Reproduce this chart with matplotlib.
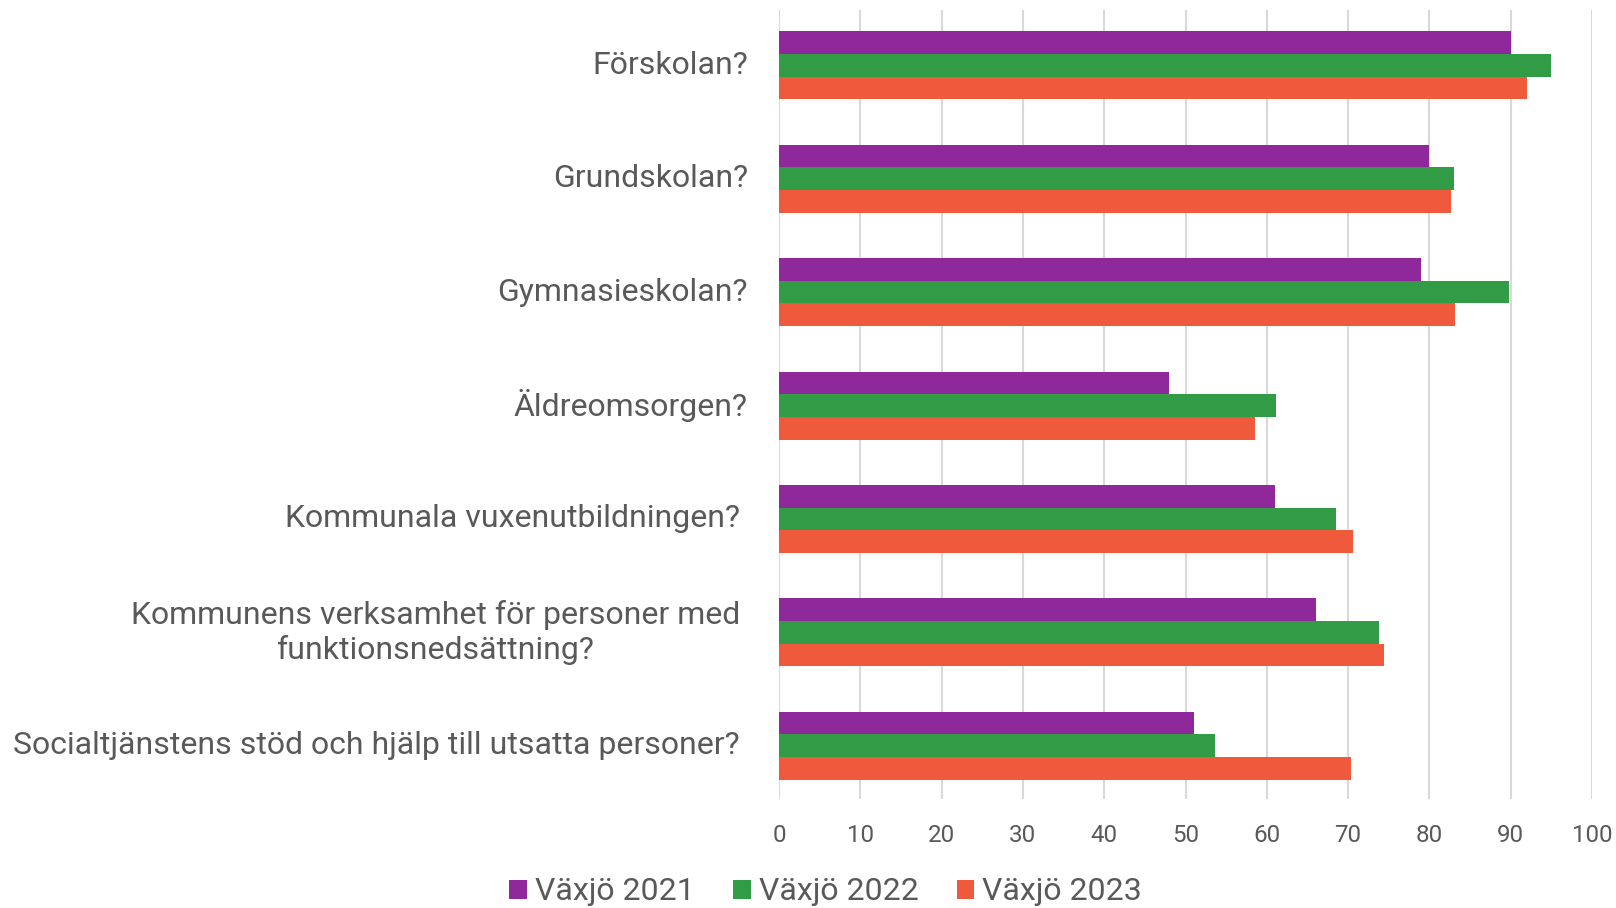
import matplotlib
matplotlib.use("Agg")
import matplotlib.pyplot as plt
import numpy as np
from matplotlib.patches import Patch
from matplotlib.transforms import blended_transform_factory, offset_copy

categories = [
    "Förskolan?",
    "Grundskolan?",
    "Gymnasieskolan?",
    "Äldreomsorgen?",
    "Kommunala vuxenutbildningen?",
    "Kommunens verksamhet för personer med\nfunktionsnedsättning?",
    "Socialtjänstens stöd och hjälp till utsatta personer?",
]
series_names = ["Växjö 2021", "Växjö 2022", "Växjö 2023"]
v2021 = [90, 80, 79, 48, 61, 66, 51]
v2022 = [95, 83, 89.8, 61.1, 68.5, 73.8, 53.6]
v2023 = [92, 82.6, 83.1, 58.6, 70.6, 74.4, 70.3]
xticks = [0, 10, 20, 30, 40, 50, 60, 70, 80, 90, 100]
label_gap = [31, 31, 31, 31, 39, 39, 39]

colors = ["#8E289B", "#329B45", "#F05A3C"]
text_color = "#595959"

plt.rcParams['font.family'] = ['Roboto', 'DejaVu Sans']

fig = plt.figure(figsize=(16.16, 9.08), dpi=100)
top_px, bot_px = 10.3, 798.7
ax = fig.add_axes([779/1616, 1 - bot_px/908, (1592-779)/1616, (bot_px-top_px)/908])

y = np.arange(len(categories))
h = 0.2
for k, (vals, c, name) in enumerate(zip([v2021, v2022, v2023], colors, series_names)):
    ax.barh(y + (k - 1) * h, vals, height=h, color=c, label=name, zorder=3)

ax.set_xlim(0, 100)
ax.set_ylim(6.468, -0.486)
ax.set_xticks(xticks)
ax.set_xticklabels([str(t) for t in xticks], fontsize=17.4, color=text_color)
ax.tick_params(axis='x', length=0, pad=18)
ax.set_yticks([])
ax.grid(axis='x', color="#D9D9D9", linewidth=1.5, zorder=0)
for s in ax.spines.values():
    s.set_visible(False)

trans = blended_transform_factory(ax.transAxes, ax.transData)
for i, (cat, gap) in enumerate(zip(categories, label_gap)):
    t = offset_copy(trans, fig=fig, x=-gap, y=0, units='dots')
    ax.text(0, i, cat, transform=t, ha='right', va='center', fontsize=23,
            color=text_color, multialignment='center', linespacing=1.2)

handles = [Patch(facecolor=c, label=n) for c, n in zip(colors, series_names)]
fig.legend(handles=handles, loc='center', bbox_to_anchor=(0.511, 1 - 892/908), ncol=3,
           frameon=False, fontsize=23, labelcolor=text_color, handlelength=0.55,
           handleheight=0.55, handletextpad=0.25, columnspacing=1.2)

fig.savefig("out.png", dpi=100)
